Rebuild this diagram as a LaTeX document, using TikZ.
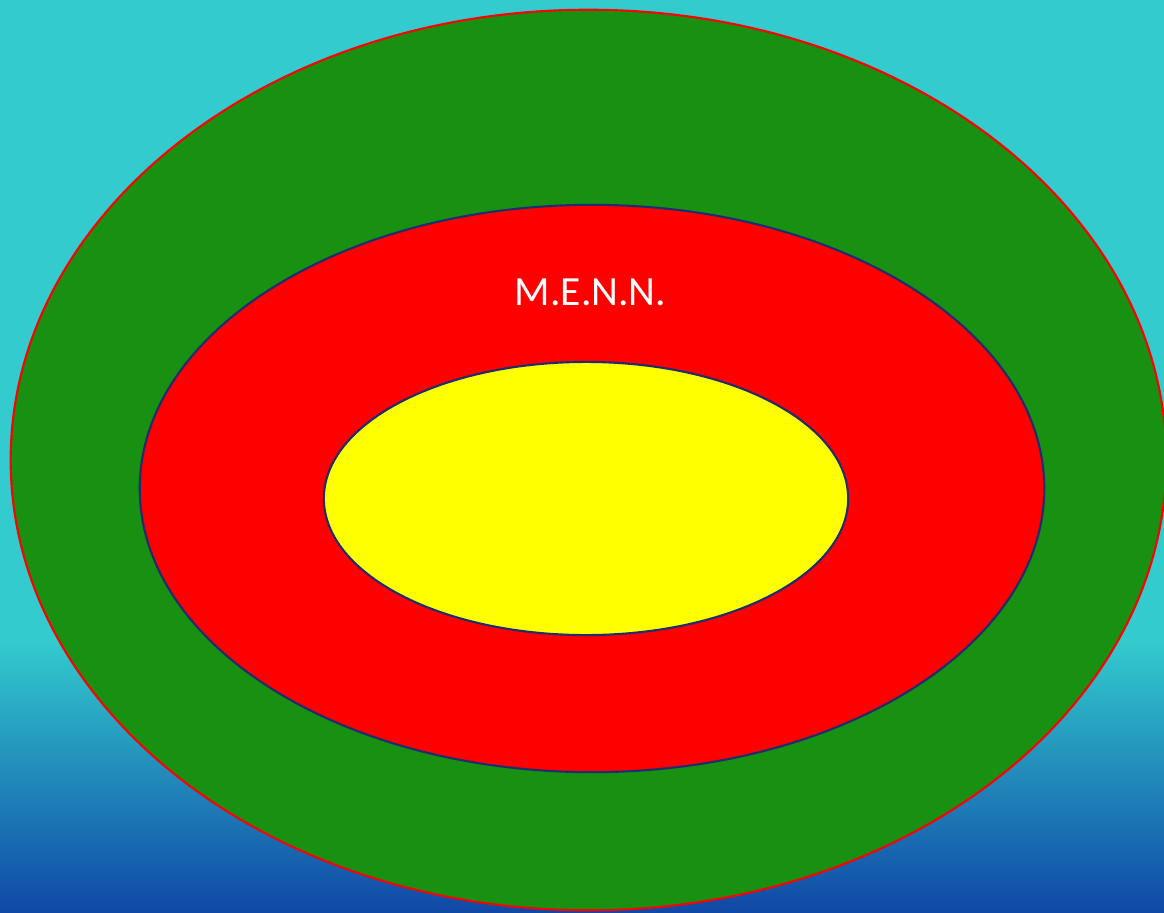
\documentclass[tikz,border=0pt]{standalone}
\usepackage{fontspec}
\setmainfont{Carlito}
\definecolor{bgteal}{HTML}{33CBCE}
\definecolor{bgmid}{HTML}{2290C0}
\definecolor{bgblue}{HTML}{1048A6}
\definecolor{ringgreen}{HTML}{189012}
\definecolor{ringnavy}{HTML}{1F2D6E}
\definecolor{ringred}{HTML}{FF0000}
\definecolor{coreyellow}{HTML}{FFFF00}
\tikzset{
  ringline/.style={line width=0.6pt},
}
\begin{document}
\begin{tikzpicture}[x=0.01cm,y=-0.01cm]
\useasboundingbox (0,0) rectangle (1164,912);
\clip (0,0) rectangle (1164,912);
\fill[bgteal] (0,0) rectangle (1164,642);
\shade[top color=bgteal, middle color=bgmid, bottom color=bgblue] (0,640) rectangle (1164,912);
\filldraw[ringline, fill=ringgreen, draw=ringred] (588.5,460) ellipse [x radius=5.775cm, y radius=4.5cm];
\filldraw[ringline, fill=ringred, draw=ringnavy] (592,488.5) ellipse [x radius=4.52cm, y radius=2.835cm];
\filldraw[ringline, fill=coreyellow, draw=ringnavy] (586,498.5) ellipse [x radius=2.62cm, y radius=1.365cm];
\node[text=white, font=\fontsize{11.8}{14}\selectfont, inner sep=0pt] (label) at (590.5,292.5) {M.E.N.N.};
\end{tikzpicture}
\end{document}
